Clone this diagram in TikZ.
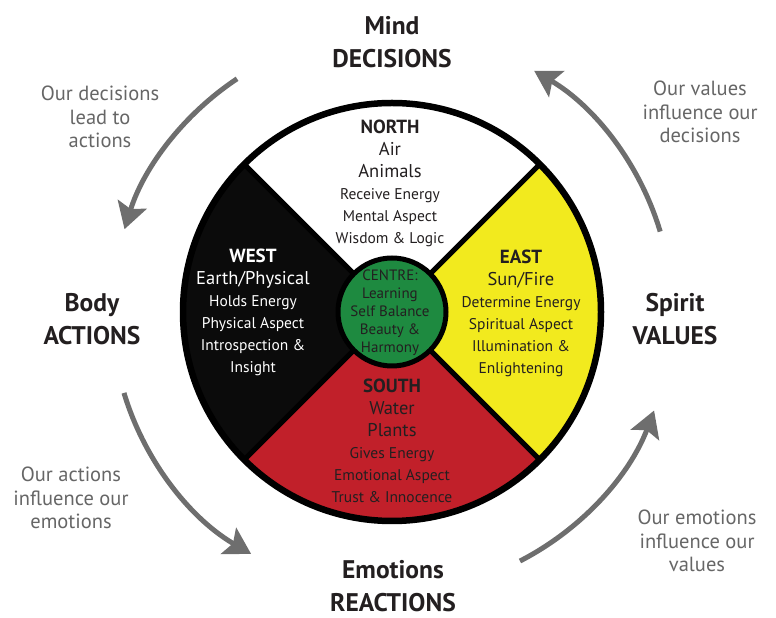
\documentclass[tikz,border=0pt]{standalone}
\usepackage{fontspec}
\setmainfont{PT Sans}
\usetikzlibrary{arrows.meta,calc}

\definecolor{wheelYellow}{HTML}{F2EA1E}
\definecolor{wheelRed}{HTML}{C1202A}
\definecolor{wheelGreen}{HTML}{1E8A40}
\definecolor{wheelBlack}{HTML}{0B0B0B}
\definecolor{flowGray}{HTML}{6E6E6E}
\definecolor{noteGray}{HTML}{666666}
\definecolor{labelInk}{HTML}{231F20}

\newcommand\qhead[1]{{\fontsize{19}{22}\selectfont\bfseries #1}}
\newcommand\qbig[1]{{\fontsize{18.5}{22}\selectfont #1}}

\begin{document}
\begin{tikzpicture}[x=1pt,y=1pt,
  outer/.style={font=\fontsize{25.5}{33}\selectfont\bfseries, text=labelInk, align=center, inner sep=0pt},
  note/.style={font=\fontsize{20.5}{23.5}\selectfont, text=noteGray, align=center, inner sep=0pt},
  quarter/.style={font=\fontsize{15.5}{22}\selectfont, align=center, inner sep=0pt},
  flow/.style={line width=5pt, flowGray, -{Stealth[length=26pt,width=30pt,inset=5pt]}}]

\useasboundingbox (0,0) rectangle (776,618);

\def\rOut{209}
\def\rIn{54}
\def\rFlow{280}

\coordinate (W) at (392,306);

% the four quarters
\fill[wheelYellow] (W) -- ++(-45:\rOut) arc[start angle=-45,end angle=45,radius=\rOut] -- cycle;
\fill[white] (W) -- ++(45:\rOut) arc[start angle=45,end angle=135,radius=\rOut] -- cycle;
\fill[wheelBlack] (W) -- ++(135:\rOut) arc[start angle=135,end angle=225,radius=\rOut] -- cycle;
\fill[wheelRed] (W) -- ++(225:\rOut) arc[start angle=225,end angle=315,radius=\rOut] -- cycle;

\draw[line width=5pt] ($(W)+(45:\rOut)$) -- ($(W)+(225:\rOut)$);
\draw[line width=5pt] ($(W)+(135:\rOut)$) -- ($(W)+(315:\rOut)$);
\draw[line width=6.5pt] (W) circle[radius=\rOut];
\draw[line width=5pt, fill=wheelGreen] (W) circle[radius=\rIn];

% texts in the wheel
\node[quarter, text=labelInk] (north) at (390,435) {\qhead{NORTH}\\ \qbig{Air}\\ \qbig{Animals}\\ Receive Energy\\ Mental Aspect\\ Wisdom \& Logic};
\node[quarter, text=white] (west) at (253,306) {\qhead{WEST}\\ \qbig{Earth/Physical}\\ Holds Energy\\ Physical Aspect\\ Introspection \&\\ Insight};
\node[quarter, text=labelInk] (east) at (521,305) {\qhead{EAST}\\ \qbig{Sun/Fire}\\ Determine Energy\\ Spiritual Aspect\\ Illumination \&\\ Enlightening};
\node[quarter, text=labelInk] (south) at (392,177.5) {\qhead{SOUTH}\\ \qbig{Water}\\ \qbig{Plants}\\ Gives Energy\\ Emotional Aspect\\ Trust \& Innocence};
\node[quarter, text=labelInk, font=\fontsize{15}{18}\selectfont] (centre) at (390,305.5) {CENTRE:\\ Learning\\ Self Balance\\ Beauty \&\\ Harmony};

% the four directions
\node[outer] (mind) at (392,575.5) {Mind\\DECISIONS};
\node[outer] (body) at (92,298.5) {Body\\ACTIONS};
\node[outer] (spirit) at (675,298.5) {Spirit\\VALUES};
\node[outer] (emotions) at (393,32) {Emotions\\REACTIONS};

% notes
\node[note] (noteDecisions) at (100,501) {Our decisions\\lead to\\actions};
\node[note] (noteValues) at (700,506) {Our values\\influence our\\decisions};
\node[note] (noteActions) at (71,120) {Our actions\\influence our\\emotions};
\node[note] (noteEmotions) at (697,77) {Our emotions\\influence our\\values};

% arrows round the wheel
\coordinate (fromMind) at ($(W)+(123.6:\rFlow)$);
\coordinate (fromBody) at ($(W)+(196.8:\rFlow)$);
\coordinate (fromEmotions) at ($(W)+(297.2:\rFlow)$);
\coordinate (fromSpirit) at ($(W)+(16.7:\rFlow)$);
\draw[flow] (fromMind) arc[start angle=123.6,end angle=162.8,radius=\rFlow];
\draw[flow] (fromBody) arc[start angle=196.8,end angle=239.8,radius=\rFlow];
\draw[flow] (fromEmotions) arc[start angle=297.2,end angle=339.4,radius=\rFlow];
\draw[flow] (fromSpirit) arc[start angle=16.7,end angle=59.5,radius=\rFlow];

\end{tikzpicture}
\end{document}
